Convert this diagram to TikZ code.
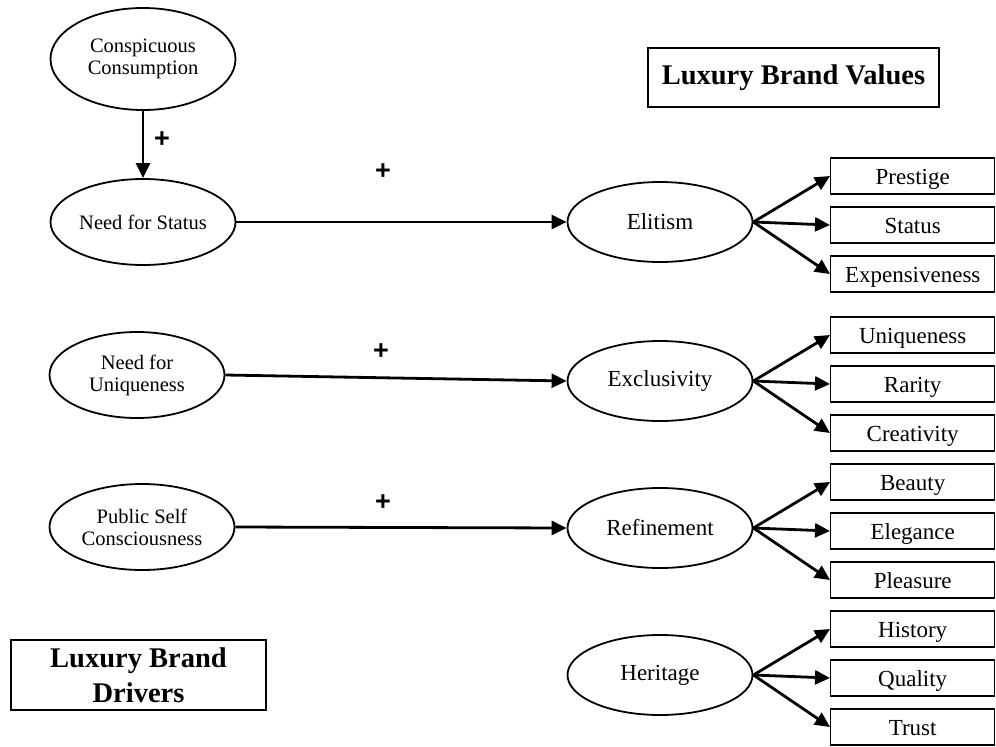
\documentclass[tikz,border=0pt]{standalone}
\usepackage{fontspec}
\setmainfont{Liberation Serif}
\newfontfamily\plusfont{Liberation Sans}
\usetikzlibrary{arrows.meta,shapes.geometric}
\newcommand{\boxx}{830}
\newcommand{\gap}{49}
\newcommand{\shift}{3}
\newcommand{\val}[6]{
	\node[value] (#1) at (660,#2) {#3};
	\node[item] (#1a) at (\boxx,#2+\shift-\gap) {#4};
	\node[item] (#1b) at (\boxx,#2+\shift) {#5};
	\node[item] (#1c) at (\boxx,#2+\shift+\gap) {#6};
	\draw[link] (#1.east) -- (#1a.west);
	\draw[link] (#1.east) -- (#1b.west);
	\draw[link] (#1.east) -- (#1c.west);
	}

\begin{document}
\begin{tikzpicture}[
      x=1pt, y=-1pt, %pixel grid, y going down
      driver/.style={ellipse, draw, line width=1.8pt, inner sep=0pt, minimum width=185pt, minimum height=86pt, align=center, font=\fontsize{20.5}{22}\selectfont},
      value/.style={ellipse, draw, line width=1.8pt, inner sep=0pt, minimum width=185pt, minimum height=80pt, font=\fontsize{23}{25}\selectfont},
      item/.style={draw, line width=1.4pt, anchor=west, minimum width=164pt, minimum height=36pt, inner sep=0pt, text height=18pt, text depth=2pt, font=\fontsize{23}{25}\selectfont},
      title/.style={draw, line width=1.4pt, align=center, font=\bfseries\fontsize{28.5}{35}\selectfont},
      link/.style={line width=2.8pt, -{Triangle[length=15pt,width=14pt]}},
      sign/.style={font=\plusfont\bfseries\fontsize{27}{27}\selectfont}
    ]
    \useasboundingbox (0,0) rectangle (996,747);
    % Titles
    \node[title, minimum width=291pt, minimum height=59pt] (valtitle) at (793.5,77.5) {Luxury Brand Values};
    \node[title, minimum width=255pt, minimum height=70pt] (drvtitle) at (138.5,675) {Luxury Brand\\Drivers};
    % Drivers
    \node[driver, minimum height=102pt] (consp) at (143,59) {Conspicuous\\Consumption};
    \node[driver] (status) at (143,222) {Need for Status};
    \node[driver, minimum width=175pt] (unique) at (137,375) {Need for\\Uniqueness};
    \node[driver] (public) at (142,527) {Public Self\\Consciousness};
    % Values with their items
    \val{elit}{222}{Elitism}{Prestige}{Status}{Expensiveness};
    \val{excl}{381}{Exclusivity}{Uniqueness}{Rarity}{Creativity};
    \val{refi}{528}{Refinement}{Beauty}{Elegance}{Pleasure};
    \val{heri}{675}{Heritage}{History}{Quality}{Trust};
    % Driver links
    \draw[link] (consp) -- (status);
    \draw[link] (status) -- (elit);
    \draw[link] (unique.east) -- (excl.west);
    \draw[link] (public.east) -- (refi.west);
    \node[sign] (p1) at (162,140) {+};
    \node[sign] (p2) at (383,172) {+};
    \node[sign] (p3) at (381,352) {+};
    \node[sign] (p4) at (383,503) {+};
\end{tikzpicture}
\end{document}
